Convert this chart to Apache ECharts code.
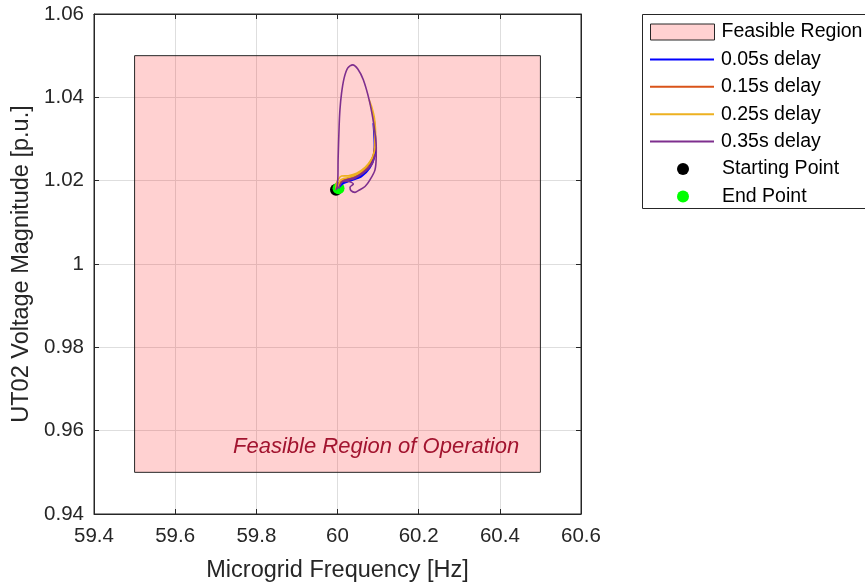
<!DOCTYPE html>
<html>
<head>
<meta charset="utf-8">
<script src="https://cdn.jsdelivr.net/npm/echarts@6/dist/echarts.min.js"></script>
<style>html,body{margin:0;padding:0;background:#fff}#c{width:865px;height:584px}</style>
</head>
<body>
<div id="c"></div>
<script>
// ---- data ----
const xTicks = [59.4, 59.6, 59.8, 60, 60.2, 60.4, 60.6];
const yTicks = [0.94, 0.96, 0.98, 1, 1.02, 1.04, 1.06];
const feasibleFreq = [59.5, 60.5];
const feasibleVolt = [0.95, 1.05];
const seriesNames = ['0.05s delay', '0.15s delay', '0.25s delay', '0.35s delay'];

const d005Freq = [59.9963, 60.002, 60.018, 60.035, 60.059, 60.080, 60.0915, 60.094, 60.092, 60.088, 60.090, 60.091, 60.085, 60.07, 60.05, 60.03, 60.012, 60.0025];
const d005Volt = [1.0178, 1.0188, 1.0197, 1.0201, 1.021, 1.0231, 1.0258, 1.029, 1.032, 1.0338, 1.031, 1.028, 1.0248, 1.0222, 1.0207, 1.0199, 1.0192, 1.0182];

const d015Freq = [59.9963, 60.0, 60.015, 60.035, 60.055, 60.073, 60.087, 60.093, 60.093, 60.089, 60.091, 60.092, 60.088, 60.075, 60.058, 60.04, 60.02, 60.006, 60.0025];
const d015Volt = [1.0178, 1.019, 1.0202, 1.0208, 1.0216, 1.0232, 1.0256, 1.0285, 1.032, 1.0355, 1.033, 1.029, 1.026, 1.0237, 1.022, 1.021, 1.0203, 1.0195, 1.0182];

const d025Freq = [59.9963, 59.997, 60.002, 60.010, 60.0267, 60.047, 60.068, 60.084, 60.0924, 60.094, 60.091, 60.085, 60.078, 60.086, 60.091, 60.0925, 60.086, 60.07, 60.05, 60.03, 60.015, 60.006, 60.0025];
const d025Volt = [1.0178, 1.0192, 1.0203, 1.0211, 1.0212, 1.0218, 1.0232, 1.0252, 1.0276, 1.031, 1.035, 1.0375, 1.0394, 1.0365, 1.0325, 1.0285, 1.0255, 1.0232, 1.0216, 1.0208, 1.0205, 1.0200, 1.0182];

const d035Freq = [59.9963, 59.999, 60.001, 60.0015, 60.004, 60.006, 60.010, 60.016, 60.025, 60.0375, 60.05, 60.0636, 60.078, 60.087, 60.093, 60.0955, 60.0954, 60.0924, 60.080, 60.0678, 60.0513, 60.043, 60.0333, 60.0308, 60.039, 60.0267, 60.0143, 60.0226, 60.043, 60.0636, 60.084, 60.092, 60.084, 60.0636, 60.043, 60.0226, 60.01, 60.0025];
const d035Volt = [1.0178, 1.0185, 1.021, 1.025, 1.033, 1.037, 1.041, 1.0445, 1.0470, 1.0478, 1.0468, 1.0442, 1.0394, 1.035, 1.031, 1.028, 1.0258, 1.0226, 1.0202, 1.0186, 1.0176, 1.0172, 1.0176, 1.0184, 1.0192, 1.0198, 1.0198, 1.0200, 1.0206, 1.0218, 1.0238, 1.0262, 1.0240, 1.0220, 1.0208, 1.0202, 1.0196, 1.0182];

const startPoint = [59.9963, 1.0178];
const endPoint = [60.0025, 1.0182];

// ---- build ----
const zip = (a, b) => a.map((v, i) => [v, b[i]]);
const lineColors = ['#0000FF', '#D95319', '#EDB120', '#7E2F8E'];
const trajFreq = [d005Freq, d015Freq, d025Freq, d035Freq];
const trajVolt = [d005Volt, d015Volt, d025Volt, d035Volt];

const FONT = 'Liberation Sans, Arial, sans-serif';
const AX = '#262626';

const chart = echarts.init(document.getElementById('c'), null, {renderer: 'canvas'});

const rowY = i => 32 + 27.4 * i;
function mkLegend(name, i, extra) {
  return Object.assign({
    data: [name], left: 650, top: rowY(i) - 10, padding: 0, orient: 'vertical',
    itemWidth: 64, itemHeight: 14, selectedMode: false,
    textStyle: {fontFamily: FONT, fontSize: 19.5, color: '#000', lineHeight: 20, padding: [0, 0, 0, 2]}
  }, extra || {});
}

const series = [
  {
    name: 'Feasible Region', type: 'line', data: [], symbol: 'none',
    xAxisIndex: 0, yAxisIndex: 0,
    itemStyle: {color: '#FFD1D1'},
    markArea: {
      silent: true,
      itemStyle: {color: 'rgba(255,0,0,0.18)', borderColor: '#262626', borderWidth: 1},
      data: [[{coord: [feasibleFreq[0], feasibleVolt[0]]}, {coord: [feasibleFreq[1], feasibleVolt[1]]}]]
    }
  },
  {
    name: 'Starting Point', type: 'scatter', data: [startPoint], symbol: 'circle', symbolSize: 12,
    itemStyle: {color: '#000000', opacity: 1}
  },
  {
    name: 'End Point', type: 'scatter', data: [endPoint], symbol: 'circle', symbolSize: 12,
    itemStyle: {color: '#00FF00', opacity: 1}
  }
];
seriesNames.forEach((n, k) => {
  series.push({
    name: n, type: 'line', data: zip(trajFreq[k], trajVolt[k]), symbol: 'none', smooth: 0.3,
    lineStyle: {color: lineColors[k], width: 1.6}, itemStyle: {color: lineColors[k]},
    z: 3
  });
});

const lineLegend = (k) => mkLegend(seriesNames[k], k + 1, {itemHeight: 2,
  data: [{name: seriesNames[k], icon: 'rect', itemStyle: {color: lineColors[k], borderWidth: 0}}]});

const option = {
  backgroundColor: '#fff',
  animation: false,
  grid: {left: 94, top: 14, width: 487, height: 500, show: true, borderColor: AX, borderWidth: 1,
    backgroundColor: 'transparent', outerBoundsMode: 'none', containLabel: false},
  xAxis: [
    {
      type: 'value', min: xTicks[0], max: xTicks[xTicks.length - 1], interval: 0.2,
      name: 'Microgrid Frequency [Hz]', nameLocation: 'middle', nameGap: 45,
      nameTextStyle: {fontFamily: FONT, fontSize: 23.5, color: AX},
      axisLine: {show: true, onZero: false, lineStyle: {color: AX, width: 1}},
      axisTick: {show: true, inside: true, length: 5, lineStyle: {color: AX}},
      axisLabel: {fontFamily: FONT, fontSize: 20.5, color: AX, margin: 12,
        formatter: v => String(+v.toFixed(1))},
      splitLine: {show: true, lineStyle: {color: '#DEDEDE', width: 1}}
    },
    {
      type: 'value', position: 'top', min: xTicks[0], max: xTicks[xTicks.length - 1], interval: 0.2,
      axisLine: {show: true, onZero: false, lineStyle: {color: AX}},
      axisTick: {show: true, inside: true, length: 5, lineStyle: {color: AX}},
      axisLabel: {show: false}, splitLine: {show: false}
    }
  ],
  yAxis: [
    {
      type: 'value', min: yTicks[0], max: yTicks[yTicks.length - 1], interval: 0.02,
      name: 'UT02 Voltage Magnitude [p.u.]', nameLocation: 'middle', nameGap: 60,
      nameTextStyle: {fontFamily: FONT, fontSize: 23.5, color: AX},
      axisLine: {show: true, onZero: false, lineStyle: {color: AX, width: 1}},
      axisTick: {show: true, inside: true, length: 5, lineStyle: {color: AX}},
      axisLabel: {fontFamily: FONT, fontSize: 20.5, color: AX, margin: 10,
        formatter: v => String(+v.toFixed(2))},
      splitLine: {show: true, lineStyle: {color: '#DEDEDE', width: 1}}
    },
    {
      type: 'value', position: 'right', min: yTicks[0], max: yTicks[yTicks.length - 1], interval: 0.02,
      axisLine: {show: true, onZero: false, lineStyle: {color: AX}},
      axisTick: {show: true, inside: true, length: 5, lineStyle: {color: AX}},
      axisLabel: {show: false}, splitLine: {show: false}
    }
  ],
  legend: [
    mkLegend('Feasible Region', 0, {itemHeight: 16,
      data: [{name: 'Feasible Region', icon: 'rect', itemStyle: {color: '#FFD1D1', borderColor: '#262626', borderWidth: 1}}]}),
    lineLegend(0), lineLegend(1), lineLegend(2), lineLegend(3),
    mkLegend('Starting Point', 5, {itemHeight: 12, left: 677,
      data: [{name: 'Starting Point', icon: 'circle', itemStyle: {color: '#000000', opacity: 1}}]}),
    mkLegend('End Point', 6, {itemHeight: 12, left: 677,
      data: [{name: 'End Point', icon: 'circle', itemStyle: {color: '#00FF00', opacity: 1}}]})
  ],
  graphic: [
    {type: 'rect', left: 642, top: 14, z: -1, shape: {x: 0, y: 0, width: 240, height: 194},
      style: {fill: '#fff', stroke: '#262626', lineWidth: 1}},
    {type: 'text', left: 233, top: 436, z: 10,
      style: {text: 'Feasible Region of Operation', fill: '#A2142F',
        font: 'italic 22px Liberation Sans, Arial, sans-serif'}}
  ],
  series: series
};
chart.setOption(option);
</script>
</body>
</html>
